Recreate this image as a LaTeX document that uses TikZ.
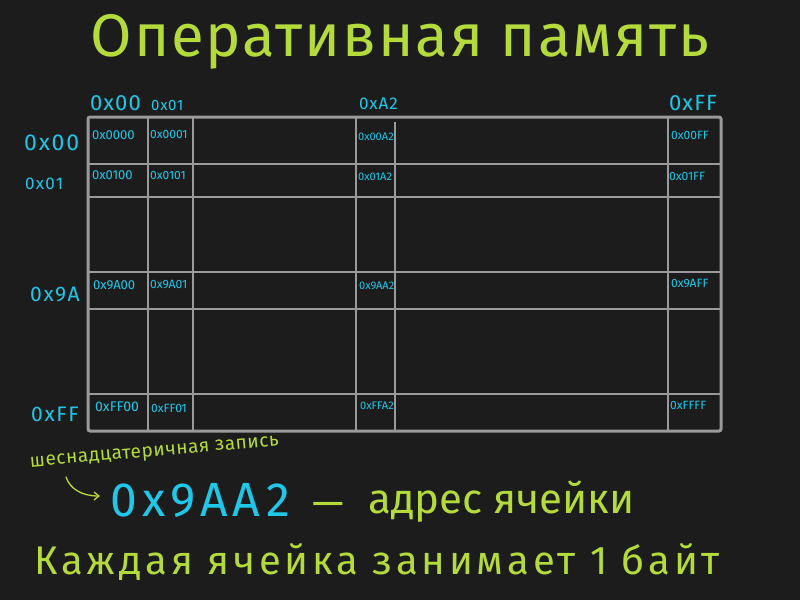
\documentclass[tikz,border=0pt]{standalone}
\usepackage{fontspec}
\setmainfont{Fira Sans}
\usetikzlibrary{arrows.meta}
\definecolor{bg}{HTML}{1C1C1C}
\definecolor{gridc}{HTML}{9A9A9A}
\definecolor{cy}{HTML}{1FC8E8}
\definecolor{gr}{HTML}{B4DA3C}
\newcommand{\fsz}[1]{\fontsize{#1}{#1}\selectfont}
\begin{document}
\begin{tikzpicture}[x=1pt,y=-1pt,
  gline/.style={gridc, line width=2.5pt},
  cell/.style={cy, font=\fsz{12}, inner sep=0pt, anchor=north west},
  hdr/.style={cy, inner sep=0pt},
  grtext/.style={gr, inner sep=0pt}]
\fill[bg] (0,0) rectangle (800,600);
\useasboundingbox (0,0) rectangle (800,600);

% title
\node[grtext, font=\fsz{60}\addfontfeature{LetterSpace=3}] (title) at (400,42) {Оперативная память};

% grid
\draw[gline] (148,117) -- (148,431);
\draw[gline] (193,117) -- (193,431);
\draw[gline] (356,117) -- (356,431);
\draw[gline] (395,122) -- (395,431);
\draw[gline] (668,117) -- (668,431);
\draw[gline] (88,164) -- (721,164);
\draw[gline] (88,197) -- (721,197);
\draw[gline] (88,272) -- (721,272);
\draw[gline] (88,309) -- (721,309);
\draw[gline] (88,394) -- (721,394);
\draw[gridc, line width=3pt, rounded corners=2pt] (88,117) rectangle (721,431);

% column headers
\node[hdr, font=\fsz{22}\addfontfeature{LetterSpace=5}, anchor=west] (c00) at (90,103) {0x00};
\node[hdr, font=\fsz{15}\addfontfeature{LetterSpace=5}, anchor=west] (c01) at (151,105) {0x01};
\node[hdr, font=\fsz{17}\addfontfeature{LetterSpace=5}, anchor=west] (cA2) at (359,104) {0xA2};
\node[hdr, font=\fsz{22}\addfontfeature{LetterSpace=5}, anchor=west] (cFF) at (669,103) {0xFF};

% row headers
\node[hdr, font=\fsz{23}\addfontfeature{LetterSpace=8}, anchor=west] (r00) at (24,143) {0x00};
\node[hdr, font=\fsz{17}\addfontfeature{LetterSpace=8}, anchor=west] (r01) at (25,184) {0x01};
\node[hdr, font=\fsz{21}\addfontfeature{LetterSpace=8}, anchor=west] (r9A) at (30,294) {0x9A};
\node[hdr, font=\fsz{21}\addfontfeature{LetterSpace=8}, anchor=west] (rFF) at (31,414) {0xFF};

% cells row 00
\node[cell, font=\fsz{13}] (a0000) at (92,130) {0x0000};
\node[cell] (a0001) at (150,130) {0x0001};
\node[cell, font=\fsz{11}] (a00A2) at (358,133) {0x00A2};
\node[cell] (a00FF) at (671,131) {0x00FF};
% row 01
\node[cell, font=\fsz{13}] (a0100) at (92,170) {0x0100};
\node[cell] (a0101) at (150,171) {0x0101};
\node[cell, font=\fsz{11}] (a01A2) at (358,173) {0x01A2};
\node[cell] (a01FF) at (669,172) {0x01FF};
% row 9A
\node[cell, font=\fsz{13}] (a9A00) at (93,280) {0x9A00};
\node[cell] (a9A01) at (150,280) {0x9A01};
\node[cell, font=\fsz{11}] (a9AA2) at (359,282) {0x9AA2};
\node[cell] (a9AFF) at (671,279) {0x9AFF};
% row FF
\node[cell, font=\fsz{14}] (aFF00) at (95,402) {0xFF00};
\node[cell] (aFF01) at (151,404) {0xFF01};
\node[cell, font=\fsz{11}] (aFFA2) at (360,402) {0xFFA2};
\node[cell] (aFFFF) at (670,401) {0xFFFF};

% note
\node[grtext, font=\fsz{19}\addfontfeature{LetterSpace=3}, rotate=5, anchor=west] (note) at (30,464) {шеснадцатеричная запись};
\coordinate (arS) at (66,477);
\coordinate (arE) at (100,496);
\draw[gr, line width=1.3pt, line cap=round, -{Straight Barb[length=5pt,width=8pt]}] (arS) .. controls (70,489) and (82,496) .. (arE);

% address line
\node[hdr, font=\fsz{48}\addfontfeature{LetterSpace=11}, anchor=west] (addr) at (110,500) {0x9AA2};
\node[grtext, font=\fsz{40}, anchor=west] (dash) at (312,509) {—};
\node[grtext, font=\fsz{42}, anchor=west] (desc) at (368,502) {адрес ячейки};

% bottom line
\node[grtext, font=\fsz{40}\addfontfeature{LetterSpace=9.5}] (bottom) at (377,562) {Каждая ячейка занимает 1 байт};
\end{tikzpicture}
\end{document}
